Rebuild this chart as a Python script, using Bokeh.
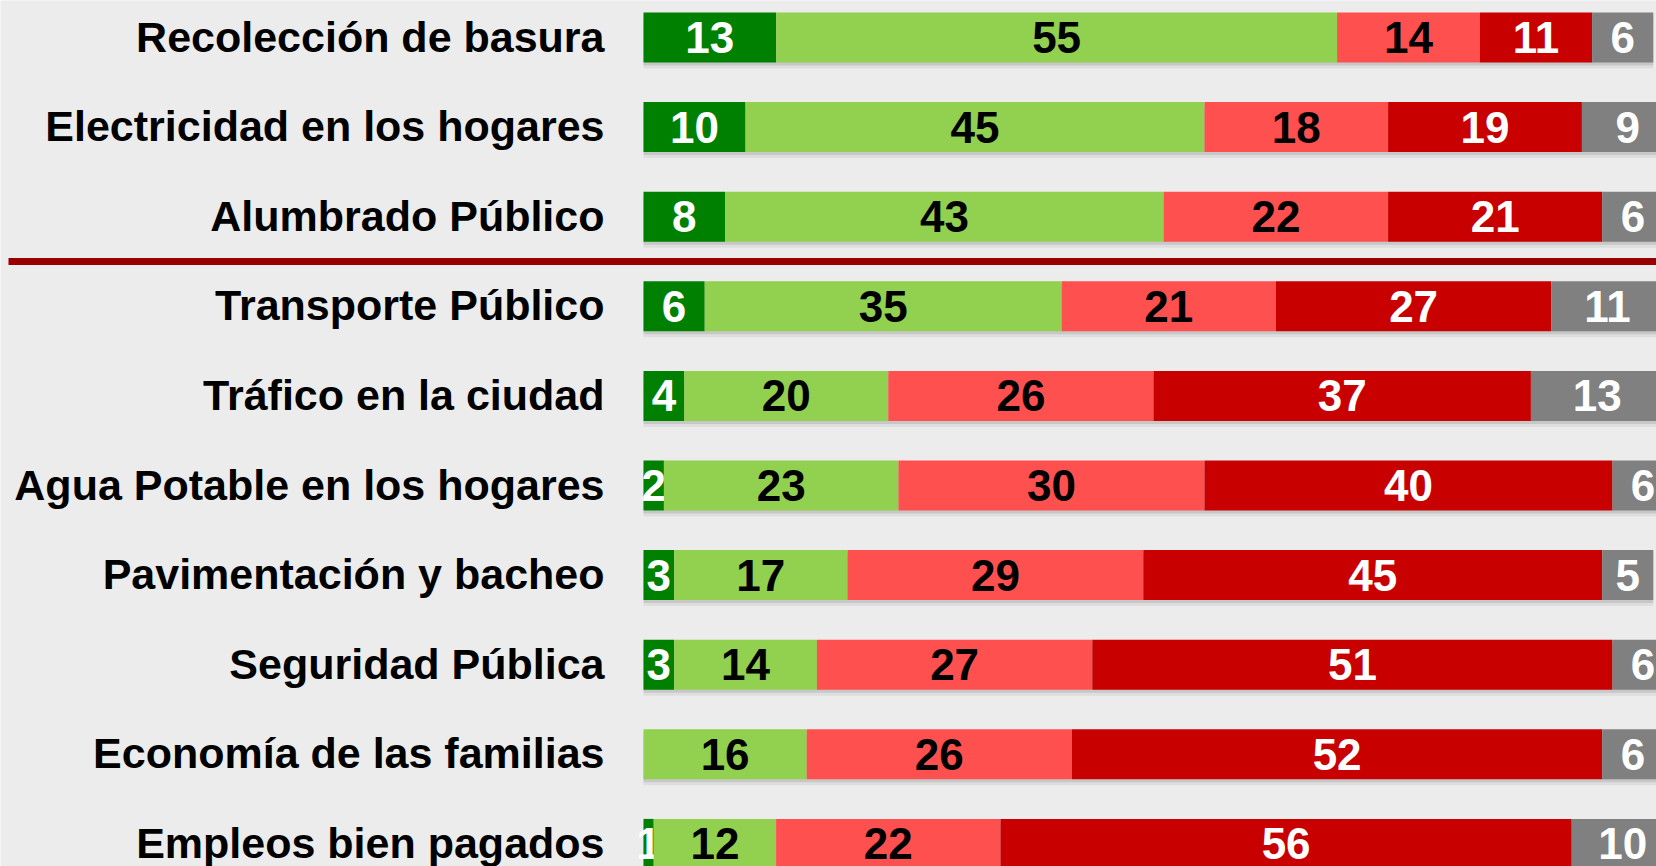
import numpy as np
from bokeh.plotting import figure
from bokeh.models import Range1d, ColumnDataSource
from bokeh.core.properties import value
from bokeh.embed import file_html
from bokeh.resources import INLINE

categories = [
    "Recolección de basura",
    "Electricidad en los hogares",
    "Alumbrado Público",
    "Transporte Público",
    "Tráfico en la ciudad",
    "Agua Potable en los hogares",
    "Pavimentación y bacheo",
    "Seguridad Pública",
    "Economía de las familias",
    "Empleos bien pagados",
]
muy_bueno = [13, 10, 8, 6, 4, 2, 3, 3, 0, 1]
bueno = [55, 45, 43, 35, 20, 23, 17, 14, 16, 12]
malo = [14, 18, 22, 21, 26, 30, 29, 27, 26, 22]
muy_malo = [11, 19, 21, 27, 37, 40, 45, 51, 52, 56]
ns_nc = [6, 9, 6, 11, 13, 6, 5, 6, 6, 10]

series = [muy_bueno, bueno, malo, muy_malo, ns_nc]
fill_colors = ["#008000", "#92D050", "#FF5050", "#C80000", "#808080"]
label_colors = ["white", "black", "black", "white", "white"]

W, H = 1656, 866
PX_PER_UNIT = 10.2       # horizontal pixels per percentage point
ROW_PX = 89.6            # vertical pixels per row
BAR_START_PX = 643       # pixel position of 0 %
TOP_PAD_PX = 37          # pixel position of first row centre
BG = "#ECECEC"

x_start = -BAR_START_PX / PX_PER_UNIT
x_end = (W - BAR_START_PX) / PX_PER_UNIT
y_top = -TOP_PAD_PX / ROW_PX
y_bottom = y_top + H / ROW_PX

p = figure(width=W, height=H, output_backend="svg", toolbar_location=None,
           x_range=Range1d(x_start, x_end), y_range=Range1d(y_bottom, y_top),
           min_border=0, min_border_left=0, min_border_right=0,
           min_border_top=0, min_border_bottom=0)
p.xaxis.visible = False
p.yaxis.visible = False
p.xgrid.grid_line_color = None
p.ygrid.grid_line_color = None
p.outline_line_color = None
p.background_fill_color = BG
p.border_fill_color = BG

rows = list(range(len(categories)))
bar_h = 50 / ROW_PX

totals = np.sum(np.array(series), axis=0)
# soft shadows under bars
for k, a in [(3, 0.10), (6, 0.06)]:
    p.hbar(y=[r + k / ROW_PX for r in rows], left=0, right=totals, height=bar_h,
           fill_color="black", fill_alpha=a, line_color=None)

left = np.zeros(len(categories))
for vals, fc, lc in zip(series, fill_colors, label_colors):
    vals = np.array(vals, dtype=float)
    right = left + vals
    p.hbar(y=rows, left=left, right=right, height=bar_h, fill_color=fc, line_color=None)
    mask = vals > 0
    src = ColumnDataSource(dict(
        x=(left + vals / 2)[mask],
        y=np.array(rows)[mask],
        t=[str(int(v)) for v in vals[mask]],
    ))
    p.text(x="x", y="y", text="t", source=src, text_align="center", text_baseline="middle",
           text_font=value("Liberation Sans"), text_font_style="bold",
           text_font_size="44px", text_color=lc, y_offset=0)
    left = right

# category labels
p.text(x=[0] * len(categories), y=rows, text=categories, x_offset=-39, y_offset=-1,
       text_align="right", text_baseline="middle",
       text_font=value("Liberation Sans"), text_font_style="bold",
       text_font_size="43px", text_color="black")

# separator between the third and fourth rows
sep_y = 2.5
p.segment(x0=[x_start + 8 / PX_PER_UNIT], x1=[x_end], y0=[sep_y], y1=[sep_y],
          line_color="#9A0000", line_width=7)

open("out.html", "w").write(file_html(p, INLINE))
